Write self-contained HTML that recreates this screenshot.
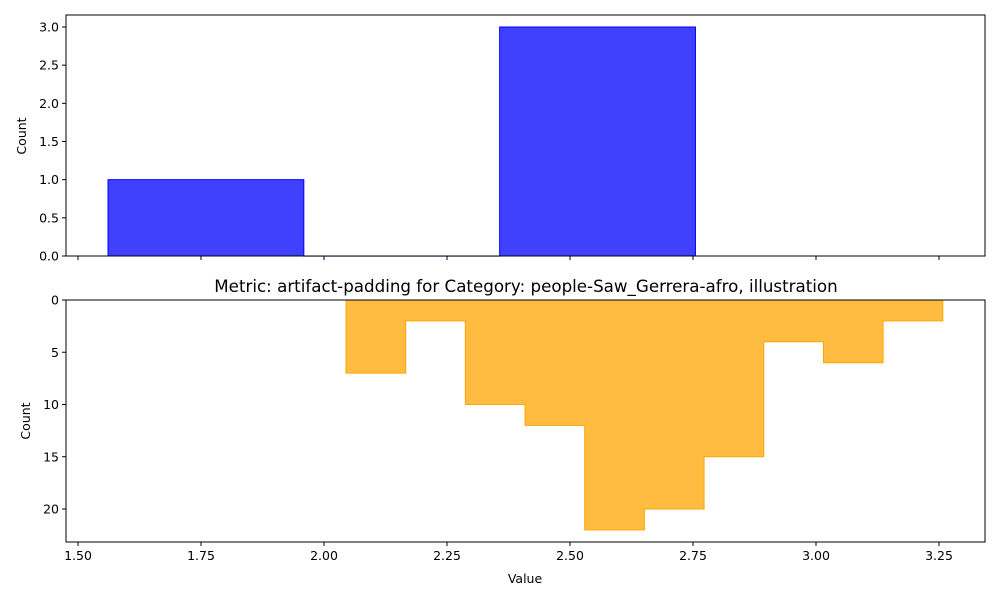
<!DOCTYPE html>
<html><head><meta charset="utf-8"><style>
body{margin:0;background:#fff;font-family:"Liberation Sans","DejaVu Sans",sans-serif}
text{font-family:"DejaVu Sans","Liberation Sans",sans-serif;font-size:12.5px;fill:#000}
</style></head><body>
<svg id="chart" width="1000" height="600" xmlns="http://www.w3.org/2000/svg"></svg>
<script>
const topEdges=[1.561,1.959,2.357,2.755];
const topCounts=[1,0,3];
const botEdges=[2.0447,2.166,2.2873,2.4086,2.5299,2.6512,2.7725,2.8938,3.0151,3.1364,3.2577];
const botCounts=[7,2,10,12,22,20,15,4,6,2];
const xTicks=[1.5,1.75,2.0,2.25,2.5,2.75,3.0,3.25];
const xTickLabels=["1.50","1.75","2.00","2.25","2.50","2.75","3.00","3.25"];
const topYTicks=[0,0.5,1,1.5,2,2.5,3];
const topYLabels=["0.0","0.5","1.0","1.5","2.0","2.5","3.0"];
const botYTicks=[0,5,10,15,20];
const botYLabels=["0","5","10","15","20"];

const NS="http://www.w3.org/2000/svg";
const svg=document.getElementById('chart');
function mk(tag,attrs,parent){const e=document.createElementNS(NS,tag);for(const k in attrs)e.setAttribute(k,attrs[k]);(parent||svg).appendChild(e);return e;}
const L=66,R=985;
const x=v=>78+(v-1.5)*492;
const T0=15,T1=256,yT=v=>T1-v*(T1-27)/3;
const B0=300,B1=542,yB=v=>B0+v*(509-B0)/20;

topCounts.forEach((c,i)=>{
 const r=mk('rect',{x:x(topEdges[i]),y:yT(c),width:x(topEdges[i+1])-x(topEdges[i]),height:Math.max(yT(0)-yT(c),0.1),fill:'rgba(0,0,255,0.75)',stroke:'#0000ff','stroke-width':1});
 
 
});
let d='M'+x(botEdges[0])+','+yB(0);
botCounts.forEach((c,i)=>{d+=' L'+x(botEdges[i])+','+yB(c)+' L'+x(botEdges[i+1])+','+yB(c);});
d+=' L'+x(botEdges[botEdges.length-1])+','+yB(0)+' Z';
const p=mk('path',{d:d,fill:'rgba(255,165,0,0.75)',stroke:'#ffa500','stroke-width':1});



const f1=mk('rect',{x:L,y:T0,width:R-L,height:T1-T0,fill:'none',stroke:'#000','stroke-width':1});


const f2=mk('rect',{x:L,y:B0,width:R-L,height:B1-B0,fill:'none',stroke:'#000','stroke-width':1});



xTicks.forEach((v,i)=>{
 mk('line',{x1:x(v),x2:x(v),y1:T1,y2:T1+4,stroke:'#000'});
 mk('line',{x1:x(v),x2:x(v),y1:B1,y2:B1+4,stroke:'#000'});
 const t=mk('text',{x:x(v),y:B1+18,'text-anchor':'middle'});t.textContent=xTickLabels[i];
 
 
});
topYTicks.forEach((v,i)=>{
 mk('line',{x1:L-4,x2:L,y1:yT(v),y2:yT(v),stroke:'#000'});
 const t=mk('text',{x:L-7,y:yT(v)+4.5,'text-anchor':'end'});t.textContent=topYLabels[i];
 
 
});
botYTicks.forEach((v,i)=>{
 mk('line',{x1:L-4,x2:L,y1:yB(v),y2:yB(v),stroke:'#000'});
 const t=mk('text',{x:L-7,y:yB(v)+4.5,'text-anchor':'end'});t.textContent=botYLabels[i];
 
 
});
let t=mk('text',{x:26,y:136,'text-anchor':'middle',transform:'rotate(-90 26 136)'});t.textContent='Count';


t=mk('text',{x:30,y:421,'text-anchor':'middle',transform:'rotate(-90 30 421)'});t.textContent='Count';


t=mk('text',{x:525,y:583,'text-anchor':'middle'});t.textContent='Value';


t=mk('text',{x:526,y:292,'text-anchor':'middle','style':'font-size:16.7px'});t.textContent='Metric: artifact-padding for Category: people-Saw_Gerrera-afro, illustration';


</script>
</body></html>
